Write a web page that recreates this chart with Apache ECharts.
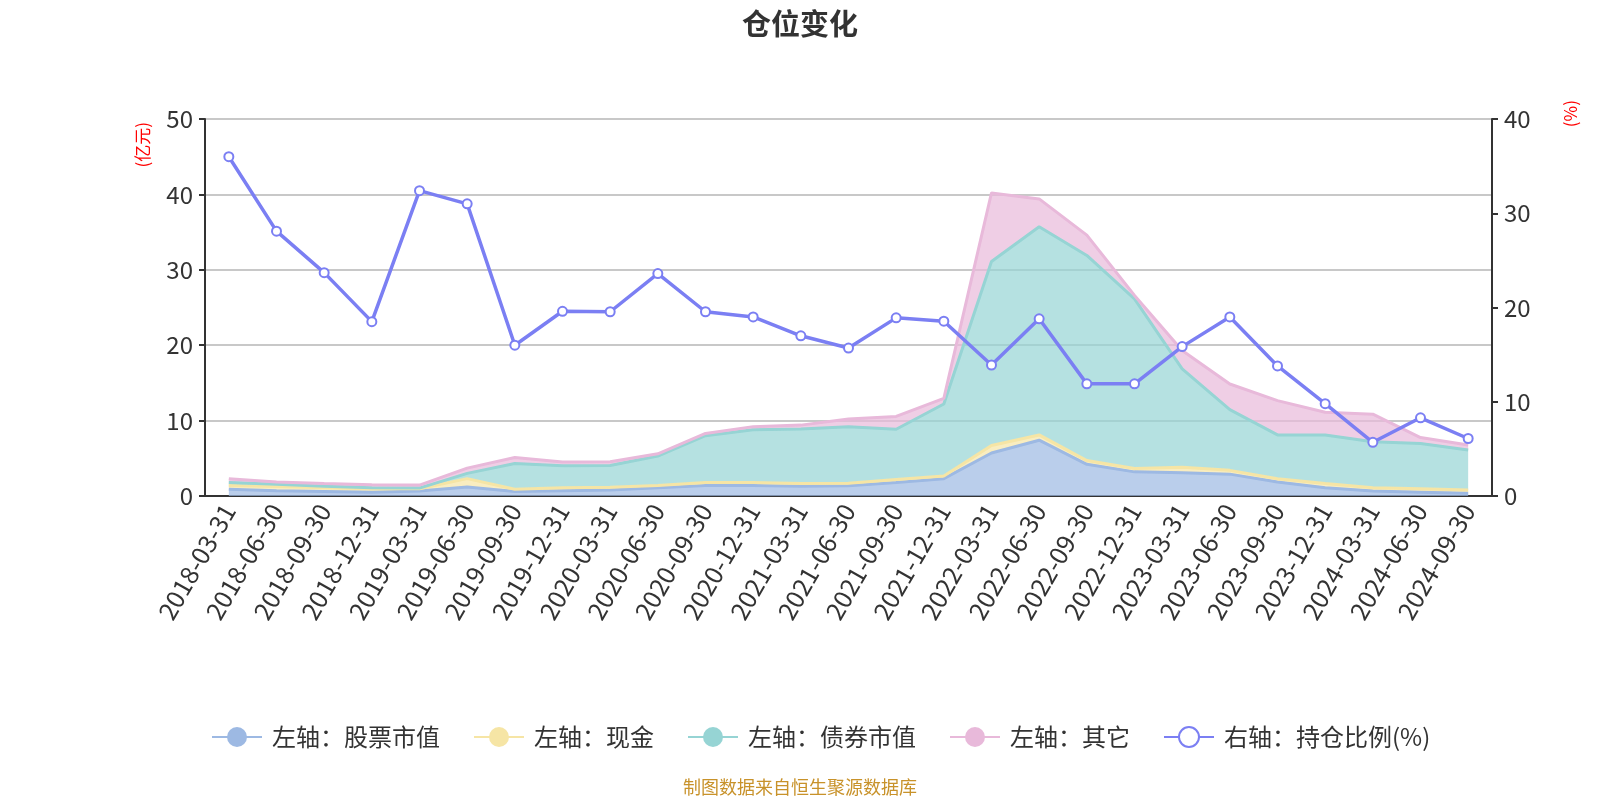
<!DOCTYPE html>
<html><head><meta charset="utf-8">
<script src="https://cdn.jsdelivr.net/npm/echarts@6/dist/echarts.min.js"></script>
<style>html,body{margin:0;padding:0;background:#fff}#c{width:1600px;height:800px}</style>
</head><body><div id="c"></div>
<script>
const categories = ['2018-03-31','2018-06-30','2018-09-30','2018-12-31','2019-03-31','2019-06-30','2019-09-30','2019-12-31','2020-03-31','2020-06-30','2020-09-30','2020-12-31','2021-03-31','2021-06-30','2021-09-30','2021-12-31','2022-03-31','2022-06-30','2022-09-30','2022-12-31','2023-03-31','2023-06-30','2023-09-30','2023-12-31','2024-03-31','2024-06-30','2024-09-30'];
const stockValue = [0.9,0.7,0.6,0.5,0.65,1.2,0.6,0.7,0.8,1.1,1.4,1.4,1.3,1.35,1.8,2.3,5.7,7.4,4.2,3.2,3.1,2.9,1.85,1.1,0.65,0.5,0.35];
const cash = [0.5,0.55,0.5,0.45,0.3,1.1,0.3,0.4,0.35,0.3,0.4,0.4,0.35,0.35,0.4,0.35,1.0,0.7,0.5,0.45,0.7,0.5,0.45,0.55,0.45,0.45,0.45];
const bondValue = [0.4,0.3,0.2,0.15,0.1,0.7,3.4,2.9,2.9,3.9,6.2,7.0,7.25,7.5,6.65,9.55,24.4,27.6,27.2,22.5,13.05,8.05,5.8,6.45,6.1,6.0,5.3];
const other = [0.5,0.3,0.35,0.4,0.4,0.7,0.8,0.5,0.5,0.3,0.3,0.4,0.5,1.0,1.7,0.75,9.1,3.7,2.7,0.45,2.45,3.4,4.55,3.0,3.65,0.8,0.65];
const positionRatio = [36.0,28.1,23.7,18.5,32.4,31.0,16.0,19.6,19.55,23.6,19.55,19.0,17.0,15.7,18.9,18.55,13.9,18.8,11.9,11.9,15.85,19.0,13.8,9.8,5.7,8.3,6.1];
const leftTicks = {min:0, max:50, interval:10};
const rightTicks = {min:0, max:40, interval:10};

const chart = echarts.init(document.getElementById('c'));
function area(name, data, color) {
  return {
    name, type:'line', stack:'total', data, yAxisIndex:0,
    symbol:'circle', showSymbol:false, symbolSize:10,
    lineStyle:{width:3, color}, itemStyle:{color},
    areaStyle:{color, opacity:0.7}
  };
}
const font = '"Noto Sans CJK SC", "Noto Sans", sans-serif';
chart.setOption({
  animation:false,
  textStyle:{fontFamily:font},
  title:{text:'仓位变化', left:'center', top:4, textStyle:{fontSize:29, fontWeight:'bold', color:'#333', fontFamily:font}},
  grid:{left:205, right:108, top:119, bottom:304},
  legend:{
    bottom:46, left:206, itemWidth:50, itemHeight:25, itemGap:33,
    textStyle:{fontSize:24, color:'#333', fontFamily:font, padding:[0,0,0,5]},
    data:['左轴：股票市值','左轴：现金','左轴：债券市值','左轴：其它','右轴：持仓比例(%)']
  },
  xAxis:{
    type:'category', data:categories, boundaryGap:true,
    axisLine:{lineStyle:{color:'#333', width:2}},
    axisTick:{length:6, lineStyle:{color:'#333', width:2}},
    axisLabel:{rotate:60, fontSize:25, color:'#333', interval:0, margin:10, fontFamily:font}
  },
  yAxis:[
    Object.assign({type:'value', position:'left',
      axisLine:{show:true, lineStyle:{color:'#333', width:2}},
      axisTick:{show:true, length:6, lineStyle:{color:'#333', width:2}},
      axisLabel:{fontSize:24, color:'#333', margin:12, fontFamily:font},
      splitLine:{lineStyle:{color:'#c8c8c8', width:2}}}, leftTicks),
    Object.assign({type:'value', position:'right',
      axisLine:{show:true, lineStyle:{color:'#333', width:2}},
      axisTick:{show:true, length:6, lineStyle:{color:'#333', width:2}},
      axisLabel:{fontSize:24, color:'#333', margin:12, fontFamily:font},
      splitLine:{show:false}}, rightTicks)
  ],
  graphic:[
    {type:'text', left:134, top:122, rotation:Math.PI/2, style:{text:'(亿元)', fill:'#ff0000', font:'17px "Noto Sans CJK SC", sans-serif'}},
    {type:'text', left:1562, top:100, rotation:Math.PI/2, style:{text:'(%)', fill:'#ff0000', font:'17px "Noto Sans CJK SC", sans-serif'}},
    {type:'text', left:'center', top:778, style:{text:'制图数据来自恒生聚源数据库', fill:'#c8922a', font:'18px "Noto Sans CJK SC", sans-serif'}}
  ],
  series:[
    area('左轴：股票市值', stockValue, '#9db9e3'),
    area('左轴：现金', cash, '#f6e5a5'),
    area('左轴：债券市值', bondValue, '#96d4d4'),
    area('左轴：其它', other, '#e8b9da'),
    {name:'右轴：持仓比例(%)', type:'line', yAxisIndex:1, data:positionRatio,
     symbol:'emptyCircle', symbolSize:9, showSymbol:true,
     lineStyle:{width:3.5, color:'#7b7ff3'}, itemStyle:{color:'#7b7ff3', borderWidth:2}, z:10}
  ]
});
</script></body></html>
